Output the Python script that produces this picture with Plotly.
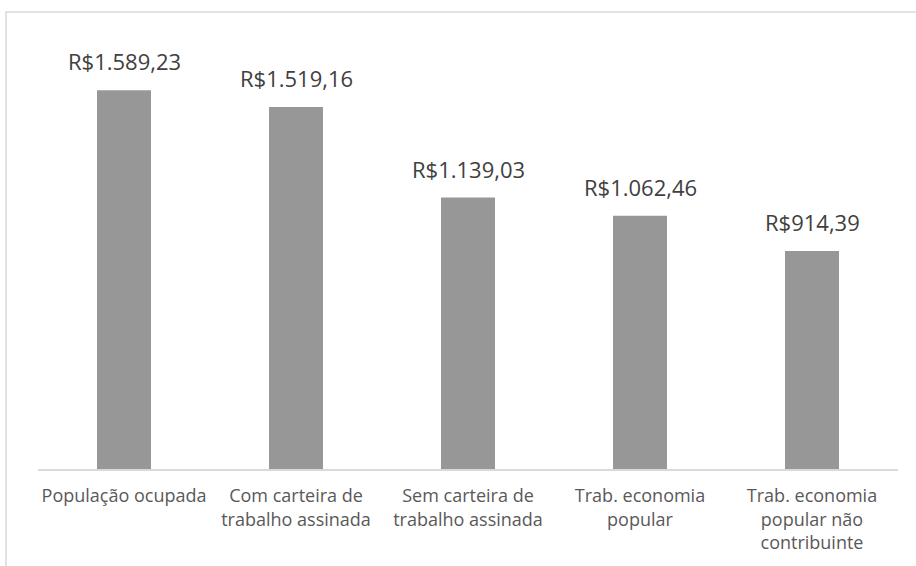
import plotly.graph_objects as go

categories = [
    "População ocupada",
    "Com carteira de<br>trabalho assinada",
    "Sem carteira de<br>trabalho assinada",
    "Trab. economia<br>popular",
    "Trab. economia<br>popular não<br>contribuinte",
]
values = [1589.23, 1519.16, 1139.03, 1062.46, 914.39]
labels = ["R$1.589,23", "R$1.519,16", "R$1.139,03", "R$1.062,46", "R$914,39"]

fig = go.Figure(
    go.Bar(
        x=categories,
        y=values,
        marker=dict(color="#979797", line=dict(width=0)),
        cliponaxis=False,
        hoverinfo="skip",
    )
)

for c, v, t in zip(categories, values, labels):
    fig.add_annotation(
        x=c, y=v, text=t,
        showarrow=False,
        yanchor="bottom",
        yshift=12,
        font=dict(family="Open Sans", size=22, color="#404040"),
    )

W, H = 916, 566
ml, mr, mt, mb = 38, 18, 40, 97
pw, ph = W - ml - mr, H - mt - mb

def px_x(p):
    return (p - ml) / pw

def px_y(p):
    return (H - mb - p) / ph

fig.add_shape(
    type="path",
    xref="paper", yref="paper",
    path=f"M {px_x(6)} {px_y(600)} L {px_x(6)} {px_y(12)} L {px_x(960)} {px_y(12)}",
    line=dict(color="#d9d9d9", width=1.5),
    layer="below",
)

fig.update_layout(
    width=W,
    height=H,
    margin=dict(l=ml, r=mr, t=mt, b=mb),
    paper_bgcolor="white",
    plot_bgcolor="white",
    bargap=0.686,
    showlegend=False,
    font=dict(family="Open Sans", color="#595959"),
    xaxis=dict(
        showline=True,
        linecolor="#d9d9d9",
        linewidth=1.5,
        ticks="",
        ticklabelstandoff=10,
        tickfont=dict(family="Open Sans", size=18, color="#595959"),
        showgrid=False,
        fixedrange=True,
    ),
    yaxis=dict(
        range=[0, 1800],
        visible=False,
        showgrid=False,
        zeroline=False,
        fixedrange=True,
    ),
)

fig.write_html(
    "out.html",
    config={"displayModeBar": False},
    post_script="document.body.style.margin='0';document.body.style.overflow='hidden';",
)
